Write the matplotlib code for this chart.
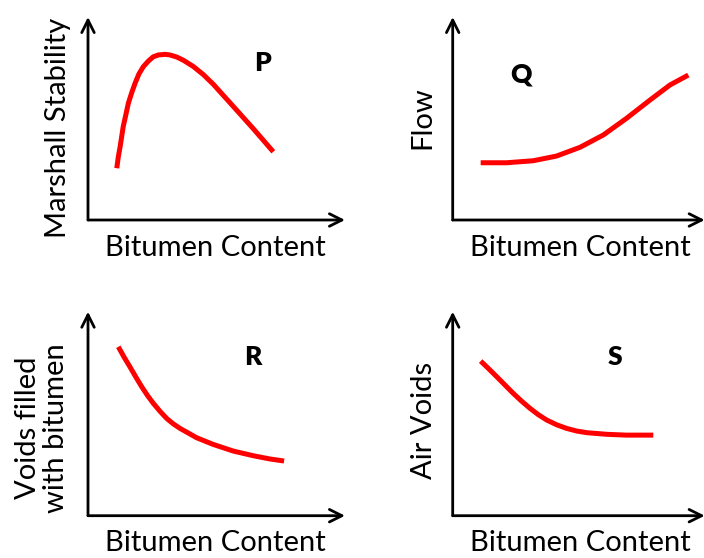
import matplotlib
matplotlib.use("Agg")
from matplotlib import pyplot as plt

plt.rcParams['font.family'] = ['Lato', 'DejaVu Sans']

# curve data (arbitrary units 0..10 on both axes)
stabilityX = [1.12, 1.18, 1.25, 1.37, 1.47, 1.57, 1.70, 1.83, 1.98, 2.15, 2.35, 2.54, 2.74,
              3.00, 3.19, 3.45, 3.71, 4.10, 4.49, 4.88, 5.65, 6.43, 7.21]
stabilityY = [2.55, 3.12, 3.61, 4.60, 5.17, 5.75, 6.27, 6.73, 7.19, 7.55, 7.83, 8.04, 8.13,
              8.16, 8.13, 8.03, 7.87, 7.56, 7.16, 6.68, 5.60, 4.50, 3.36]

flowX = [1.11, 2.14, 3.20, 4.12, 5.05, 5.98, 6.90, 7.83, 8.62, 9.35]
flowY = [2.82, 2.82, 2.92, 3.15, 3.58, 4.19, 5.01, 5.91, 6.65, 7.14]

vfbX = [1.18, 1.40, 1.63, 1.86, 2.09, 2.31, 2.54, 2.80, 3.06, 3.32, 3.58, 4.23, 4.88, 5.65,
        6.43, 7.08, 7.63]
vfbY = [8.28, 7.78, 7.30, 6.80, 6.32, 5.90, 5.51, 5.12, 4.77, 4.50, 4.28, 3.82, 3.49, 3.17,
        2.94, 2.78, 2.68]

airX = [1.11, 1.43, 1.75, 2.07, 2.40, 2.73, 3.07, 3.40, 3.73, 4.12, 4.52, 4.92, 5.32, 6.11,
        6.90, 7.96]
airY = [7.58, 7.20, 6.81, 6.41, 6.00, 5.62, 5.26, 4.95, 4.69, 4.46, 4.28, 4.15, 4.07, 3.99,
        3.95, 3.95]

panelLetters = ['P', 'Q', 'R', 'S']
yLabels = ['Marshall Stability', 'Flow', 'Voids filled\nwith bitumen', 'Air Voids']
xLabel = 'Bitumen Content'

W, H = 704, 558
fig = plt.figure(figsize=(W / 100, H / 100), dpi=100)

# pixel boxes: origin x, origin y, width, height
boxes = [(88, 220, 257, 203), (452.7, 220, 252, 203),
         (88, 515.7, 257, 204), (452.7, 515.7, 252, 204)]
curves = [(stabilityX, stabilityY), (flowX, flowY), (vfbX, vfbY), (airX, airY)]
letterPos = [(262, 63), (521, 75), (253, 357), (615, 357)]
yLabelPos = [(58, 128), (422, 118), (42, 428), (424, 420)]
xLabelPos = [(215, 248), (580, 248), (215, 543), (580, 543)]

for i in range(4):
    ox, oy, w, h = boxes[i]
    ax = fig.add_axes([ox / W, (H - oy) / H, w / W, h / H])
    ax.set_xlim(0, 10)
    ax.set_ylim(0, 10)
    ax.axis('off')
    arrowStyle = dict(arrowstyle='->,head_length=0.9,head_width=0.45', color='black', lw=2,
                      shrinkA=0, shrinkB=0)
    ax.annotate('', xy=(1, 0), xytext=(0, 0), xycoords='axes fraction', arrowprops=arrowStyle,
                annotation_clip=False)
    ax.annotate('', xy=(0, 1), xytext=(0, 0), xycoords='axes fraction', arrowprops=arrowStyle,
                annotation_clip=False)
    cx, cy = curves[i]
    ax.plot(cx, cy, color='#ff0000', lw=3.6, solid_capstyle='butt', solid_joinstyle='round')

    # text
    fig.text(letterPos[i][0] / W, 1 - letterPos[i][1] / H, panelLetters[i],
             fontsize=19, fontweight='heavy', ha='center', va='center')
    fig.text(xLabelPos[i][0] / W, 1 - xLabelPos[i][1] / H, xLabel, fontsize=21,
             ha='center', va='center')
    fig.text(yLabelPos[i][0] / W, 1 - yLabelPos[i][1] / H, yLabels[i], fontsize=21,
             ha='center', va='center', rotation=90, linespacing=1.05)

fig.savefig('out.png', dpi=100)
